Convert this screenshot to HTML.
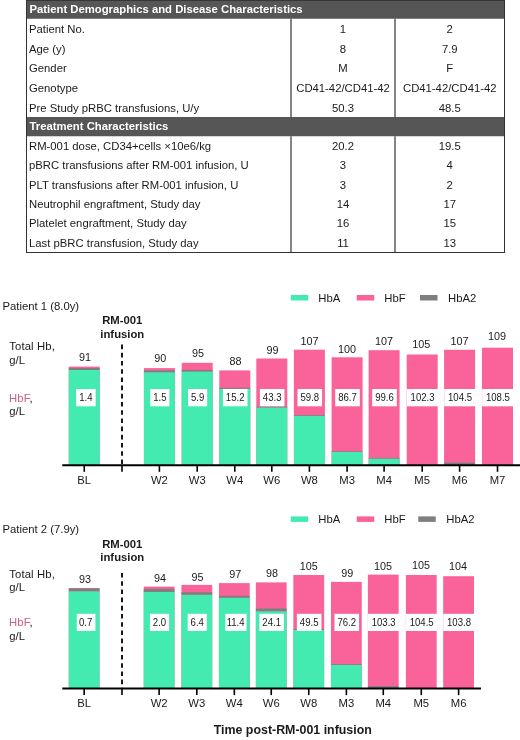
<!DOCTYPE html><html><head><meta charset="utf-8"><title>RM-001</title><style>
html,body{margin:0;padding:0;background:#fff}
svg{display:block}
text{font-family:"Liberation Sans",Arial,sans-serif;font-size:11.3px;fill:#1a1a1a}
.b{font-weight:bold}.w{fill:#fff}.m{text-anchor:middle}
.v{font-size:20px}.n{font-size:10.8px}
</style></head><body>
<svg width="520" height="740" viewBox="0 0 520 740" style="will-change:transform">
<rect x="26.0" y="0" width="479.0" height="18.75" fill="#565656"/>
<rect x="26.0" y="117" width="479.0" height="19.25" fill="#565656"/>
<g stroke="#333" stroke-width="1.2" fill="none">
<path d="M26.5 0V252.5M504.5 0V252.5M26.0 252.5H505.0M26.0 0.4H505.0" stroke-width="1"/>
<path d="M291 18.75V117M395 18.75V117M291 136.25V252.5M395 136.25V252.5"/>
</g>
<text class="b w" x="29.5" y="13">Patient Demographics and Disease Characteristics</text>
<text class="b w" x="29.5" y="130">Treatment Characteristics</text>
<text x="29" y="33.05">Patient No.</text><text class="m" x="343.0" y="33.05">1</text><text class="m" x="449.75" y="33.05">2</text>
<text x="29" y="52.70">Age (y)</text><text class="m" x="343.0" y="52.70">8</text><text class="m" x="449.75" y="52.70">7.9</text>
<text x="29" y="72.35">Gender</text><text class="m" x="343.0" y="72.35">M</text><text class="m" x="449.75" y="72.35">F</text>
<text x="29" y="92.00">Genotype</text><text class="m" x="343.0" y="92.00">CD41-42/CD41-42</text><text class="m" x="449.75" y="92.00">CD41-42/CD41-42</text>
<text x="29" y="111.65">Pre Study pRBC transfusions, U/y</text><text class="m" x="343.0" y="111.65">50.3</text><text class="m" x="449.75" y="111.65">48.5</text>
<text x="29" y="149.85">RM-001 dose, CD34+cells ×10e6/kg</text><text class="m" x="343.0" y="149.85">20.2</text><text class="m" x="449.75" y="149.85">19.5</text>
<text x="29" y="169.22">pBRC transfusions after RM-001 infusion, U</text><text class="m" x="343.0" y="169.22">3</text><text class="m" x="449.75" y="169.22">4</text>
<text x="29" y="188.60">PLT transfusions after RM-001 infusion, U</text><text class="m" x="343.0" y="188.60">3</text><text class="m" x="449.75" y="188.60">2</text>
<text x="29" y="207.97">Neutrophil engraftment, Study day</text><text class="m" x="343.0" y="207.97">14</text><text class="m" x="449.75" y="207.97">17</text>
<text x="29" y="227.35">Platelet engraftment, Study day</text><text class="m" x="343.0" y="227.35">16</text><text class="m" x="449.75" y="227.35">15</text>
<text x="29" y="246.72">Last pBRC transfusion, Study day</text><text class="m" x="343.0" y="246.72">11</text><text class="m" x="449.75" y="246.72">13</text>
<text x="2.5" y="310">Patient 1 (8.0y)</text>
<rect x="290.75" y="295" width="17.5" height="5.5" fill="#44ebb1"/><text x="318.25" y="301.6">HbA</text>
<rect x="356.75" y="295" width="17.5" height="5.5" fill="#f9639a"/><text x="384.25" y="301.6">HbF</text>
<rect x="420" y="295" width="17.5" height="5.5" fill="#7f7f7f"/><text x="448" y="301.6">HbA2</text>
<text class="b m" x="122.3" y="323.8">RM-001</text><text class="b m" x="122.3" y="337.7">infusion</text>
<text x="9.2" y="350.0" textLength="45.6" lengthAdjust="spacing">Total Hb,</text><text x="9.3" y="363.8">g/L</text>
<text x="9.0" y="401.5" textLength="23.6" lengthAdjust="spacing"><tspan fill="#c4648a">HbF</tspan>,</text><text x="9.3" y="415.2">g/L</text>
<rect x="68.75" y="366.6" width="31.0" height="98.30" fill="#f9639a"/>
<rect x="68.75" y="369.9" width="31.0" height="95.00" fill="#44ebb1"/>
<rect x="68.75" y="368.0" width="31.0" height="1.90" fill="#7f7f7f"/>
<text class="m n" x="85.05" y="361.10">91</text>
<rect x="76.15" y="389.0" width="19.50" height="17.30" fill="#fff"/>
<text class="m v" transform="translate(85.90 401.45) scale(0.48 0.505)">1.4</text>
<path d="M84.25 465.2V471.8" stroke="#000" stroke-width="1.6"/>
<text class="m" x="84.25" y="483.90">BL</text>
<rect x="143.9" y="368.1" width="31.0" height="96.80" fill="#f9639a"/>
<rect x="143.9" y="372.2" width="31.0" height="92.70" fill="#44ebb1"/>
<rect x="143.9" y="370.4" width="31.0" height="1.80" fill="#7f7f7f"/>
<text class="m n" x="160.20" y="362.30">90</text>
<rect x="150.24" y="389.0" width="19.12" height="17.30" fill="#fff"/>
<text class="m v" transform="translate(159.80 401.45) scale(0.48 0.505)">1.5</text>
<path d="M159.40 465.2V471.8" stroke="#000" stroke-width="1.6"/>
<text class="m" x="159.40" y="483.90">W2</text>
<rect x="181.7" y="362.8" width="31.0" height="102.10" fill="#f9639a"/>
<rect x="181.7" y="371.5" width="31.0" height="93.40" fill="#44ebb1"/>
<rect x="181.7" y="369.9" width="31.0" height="1.60" fill="#7f7f7f"/>
<text class="m n" x="198.00" y="356.50">95</text>
<rect x="188.04" y="389.0" width="19.12" height="17.30" fill="#fff"/>
<text class="m v" transform="translate(197.60 401.45) scale(0.48 0.505)">5.9</text>
<path d="M197.20 465.2V471.8" stroke="#000" stroke-width="1.6"/>
<text class="m" x="197.20" y="483.90">W3</text>
<rect x="219.3" y="370.4" width="31.0" height="94.50" fill="#f9639a"/>
<rect x="219.3" y="388.8" width="31.0" height="76.10" fill="#44ebb1"/>
<rect x="219.3" y="387.7" width="31.0" height="1.10" fill="#7f7f7f"/>
<text class="m n" x="235.60" y="364.90">88</text>
<rect x="222.91" y="389.0" width="24.57" height="17.30" fill="#fff"/>
<text class="m v" transform="translate(235.20 401.45) scale(0.48 0.505)">15.2</text>
<path d="M234.80 465.2V471.8" stroke="#000" stroke-width="1.6"/>
<text class="m" x="234.80" y="483.90">W4</text>
<rect x="256.3" y="358.5" width="31.0" height="106.40" fill="#f9639a"/>
<rect x="256.3" y="407.4" width="31.0" height="57.50" fill="#44ebb1"/>
<rect x="256.3" y="406.6" width="31.0" height="0.80" fill="#7f7f7f"/>
<text class="m n" x="272.60" y="353.80">99</text>
<rect x="259.91" y="389.0" width="24.57" height="17.30" fill="#fff"/>
<text class="m v" transform="translate(272.20 401.45) scale(0.48 0.505)">43.3</text>
<path d="M271.80 465.2V471.8" stroke="#000" stroke-width="1.6"/>
<text class="m" x="271.80" y="483.90">W6</text>
<rect x="293.9" y="349.7" width="31.0" height="115.20" fill="#f9639a"/>
<rect x="293.9" y="415.7" width="31.0" height="49.20" fill="#44ebb1"/>
<rect x="293.9" y="415.0" width="31.0" height="0.70" fill="#7f7f7f"/>
<text class="m n" x="309.40" y="344.70">107</text>
<rect x="297.51" y="389.0" width="24.57" height="17.30" fill="#fff"/>
<text class="m v" transform="translate(309.80 401.45) scale(0.48 0.505)">59.8</text>
<path d="M309.40 465.2V471.8" stroke="#000" stroke-width="1.6"/>
<text class="m" x="309.40" y="483.90">W8</text>
<rect x="331.6" y="357.3" width="31.0" height="107.60" fill="#f9639a"/>
<rect x="331.6" y="451.9" width="31.0" height="13.00" fill="#44ebb1"/>
<rect x="331.6" y="451.3" width="31.0" height="0.60" fill="#7f7f7f"/>
<text class="m n" x="347.10" y="352.50">100</text>
<rect x="335.21" y="389.0" width="24.57" height="17.30" fill="#fff"/>
<text class="m v" transform="translate(347.50 401.45) scale(0.48 0.505)">86.7</text>
<path d="M347.10 465.2V471.8" stroke="#000" stroke-width="1.6"/>
<text class="m" x="347.10" y="483.90">M3</text>
<rect x="368.6" y="350.2" width="31.0" height="114.70" fill="#f9639a"/>
<rect x="368.6" y="458.5" width="31.0" height="6.40" fill="#44ebb1"/>
<rect x="368.6" y="457.8" width="31.0" height="0.70" fill="#7f7f7f"/>
<text class="m n" x="384.10" y="345.20">107</text>
<rect x="372.21" y="389.0" width="24.57" height="17.30" fill="#fff"/>
<text class="m v" transform="translate(384.50 401.45) scale(0.48 0.505)">99.6</text>
<path d="M384.10 465.2V471.8" stroke="#000" stroke-width="1.6"/>
<text class="m" x="384.10" y="483.90">M4</text>
<rect x="406.7" y="354.5" width="31.0" height="110.40" fill="#f9639a"/>
<text class="m n" x="421.30" y="347.60">105</text>
<rect x="406.84" y="389.0" width="31.52" height="17.30" fill="#fff"/>
<text class="m v" transform="translate(422.60 401.45) scale(0.48 0.505)">102.3</text>
<path d="M422.20 465.2V471.8" stroke="#000" stroke-width="1.6"/>
<text class="m" x="422.20" y="483.90">M5</text>
<rect x="444.1" y="349.8" width="31.0" height="115.10" fill="#f9639a"/>
<rect x="444.1" y="462.6" width="31.0" height="2.30" fill="#7f7f7f"/>
<text class="m n" x="459.60" y="345.10">107</text>
<rect x="444.24" y="389.0" width="31.52" height="17.30" fill="#fff"/>
<text class="m v" transform="translate(460.00 401.45) scale(0.48 0.505)">104.5</text>
<path d="M459.60 465.2V471.8" stroke="#000" stroke-width="1.6"/>
<text class="m" x="459.60" y="483.90">M6</text>
<rect x="482.0" y="347.7" width="31.0" height="117.20" fill="#f9639a"/>
<text class="m n" x="496.90" y="340.40">109</text>
<rect x="482.14" y="389.0" width="31.52" height="17.30" fill="#fff"/>
<text class="m v" transform="translate(497.90 401.45) scale(0.48 0.505)">108.5</text>
<path d="M497.50 465.2V471.8" stroke="#000" stroke-width="1.6"/>
<text class="m" x="497.50" y="483.90">M7</text>
<path d="M62.3 465.2H520" stroke="#000" stroke-width="2"/>
<path d="M122 344.6V465.2" stroke="#000" stroke-width="1.8" stroke-dasharray="4.6 3.6"/>
<path d="M122 465.2V471.8" stroke="#000" stroke-width="1.6"/>
<text x="2.5" y="533.1">Patient 2 (7.9y)</text>
<rect x="290.75" y="516.4" width="17.5" height="5.5" fill="#44ebb1"/><text x="318.25" y="523.0">HbA</text>
<rect x="356.75" y="516.4" width="17.5" height="5.5" fill="#f9639a"/><text x="384.25" y="523.0">HbF</text>
<rect x="418.25" y="516.4" width="17.5" height="5.5" fill="#7f7f7f"/><text x="446.25" y="523.0">HbA2</text>
<text class="b m" x="122.3" y="547.5">RM-001</text><text class="b m" x="122.3" y="561.3">infusion</text>
<text x="9.2" y="578.0" textLength="45.6" lengthAdjust="spacing">Total Hb,</text><text x="9.3" y="591.3">g/L</text>
<text x="9.0" y="626.2" textLength="23.6" lengthAdjust="spacing"><tspan fill="#c4648a">HbF</tspan>,</text><text x="9.3" y="640.0">g/L</text>
<rect x="68.75" y="588.0" width="30.8" height="100.20" fill="#f9639a"/>
<rect x="68.75" y="591.2" width="30.8" height="97.00" fill="#44ebb1"/>
<rect x="68.75" y="588.5" width="30.8" height="2.70" fill="#7f7f7f"/>
<text class="m n" x="84.95" y="583.10">93</text>
<rect x="76.80" y="613.8" width="18.60" height="17.20" fill="#fff"/>
<text class="m v" transform="translate(85.70 626.20) scale(0.48 0.505)">0.7</text>
<path d="M84.15 688.5V695.1" stroke="#000" stroke-width="1.6"/>
<text class="m" x="84.15" y="707.20">BL</text>
<rect x="143.71964000000003" y="586.6" width="30.8" height="101.60" fill="#f9639a"/>
<rect x="143.71964000000003" y="591.9" width="30.8" height="96.30" fill="#44ebb1"/>
<rect x="143.71964000000003" y="588.9" width="30.8" height="3.00" fill="#7f7f7f"/>
<text class="m n" x="159.92" y="581.90">94</text>
<rect x="149.96" y="613.8" width="19.12" height="17.20" fill="#fff"/>
<text class="m v" transform="translate(159.52 626.20) scale(0.48 0.505)">2.0</text>
<path d="M159.12 688.5V695.1" stroke="#000" stroke-width="1.6"/>
<text class="m" x="159.12" y="707.20">W2</text>
<rect x="181.42892" y="584.9" width="30.8" height="103.30" fill="#f9639a"/>
<rect x="181.42892" y="594.6" width="30.8" height="93.60" fill="#44ebb1"/>
<rect x="181.42892" y="592.3" width="30.8" height="2.30" fill="#7f7f7f"/>
<text class="m n" x="197.63" y="580.70">95</text>
<rect x="187.67" y="613.8" width="19.12" height="17.20" fill="#fff"/>
<text class="m v" transform="translate(197.23 626.20) scale(0.48 0.505)">6.4</text>
<path d="M196.83 688.5V695.1" stroke="#000" stroke-width="1.6"/>
<text class="m" x="196.83" y="707.20">W3</text>
<rect x="218.93868" y="583.1" width="30.8" height="105.10" fill="#f9639a"/>
<rect x="218.93868" y="597.6" width="30.8" height="90.60" fill="#44ebb1"/>
<rect x="218.93868" y="595.8" width="30.8" height="1.80" fill="#7f7f7f"/>
<text class="m n" x="235.14" y="578.40">97</text>
<rect x="225.30" y="613.8" width="21.20" height="17.20" fill="#fff"/>
<text class="m v" transform="translate(235.64 626.20) scale(0.48 0.505)">11.4</text>
<path d="M234.34 688.5V695.1" stroke="#000" stroke-width="1.6"/>
<text class="m" x="234.34" y="707.20">W4</text>
<rect x="255.84988" y="582.4" width="30.8" height="105.80" fill="#f9639a"/>
<rect x="255.84988" y="611.2" width="30.8" height="77.00" fill="#44ebb1"/>
<rect x="255.84988" y="608.5" width="30.8" height="2.70" fill="#7f7f7f"/>
<text class="m n" x="272.05" y="577.00">98</text>
<rect x="259.36" y="613.8" width="24.57" height="17.20" fill="#fff"/>
<text class="m v" transform="translate(271.65 626.20) scale(0.48 0.505)">24.1</text>
<path d="M271.25 688.5V695.1" stroke="#000" stroke-width="1.6"/>
<text class="m" x="271.25" y="707.20">W6</text>
<rect x="293.35964" y="575.0" width="30.8" height="113.20" fill="#f9639a"/>
<rect x="293.35964" y="629.9" width="30.8" height="58.30" fill="#44ebb1"/>
<rect x="293.35964" y="629.0" width="30.8" height="0.90" fill="#7f7f7f"/>
<text class="m n" x="308.76" y="569.70">105</text>
<rect x="296.87" y="613.8" width="24.57" height="17.20" fill="#fff"/>
<text class="m v" transform="translate(309.16 626.20) scale(0.48 0.505)">49.5</text>
<path d="M308.76 688.5V695.1" stroke="#000" stroke-width="1.6"/>
<text class="m" x="308.76" y="707.20">W8</text>
<rect x="330.96916000000004" y="581.9" width="30.8" height="106.30" fill="#f9639a"/>
<rect x="330.96916000000004" y="665.0" width="30.8" height="23.20" fill="#44ebb1"/>
<rect x="330.96916000000004" y="664.3" width="30.8" height="0.70" fill="#7f7f7f"/>
<text class="m n" x="347.17" y="577.00">99</text>
<rect x="334.48" y="613.8" width="24.57" height="17.20" fill="#fff"/>
<text class="m v" transform="translate(346.77 626.20) scale(0.48 0.505)">76.2</text>
<path d="M346.37 688.5V695.1" stroke="#000" stroke-width="1.6"/>
<text class="m" x="346.37" y="707.20">M3</text>
<rect x="367.88036000000005" y="574.6" width="30.8" height="113.60" fill="#f9639a"/>
<rect x="367.88036000000005" y="686.2" width="30.8" height="2.00" fill="#7f7f7f"/>
<text class="m n" x="382.98" y="569.70">105</text>
<rect x="367.92" y="613.8" width="31.52" height="17.20" fill="#fff"/>
<text class="m v" transform="translate(383.68 626.20) scale(0.48 0.505)">103.3</text>
<path d="M383.28 688.5V695.1" stroke="#000" stroke-width="1.6"/>
<text class="m" x="383.28" y="707.20">M4</text>
<rect x="405.88892" y="575.0" width="30.8" height="113.20" fill="#f9639a"/>
<text class="m n" x="420.99" y="568.70">105</text>
<rect x="405.93" y="613.8" width="31.52" height="17.20" fill="#fff"/>
<text class="m v" transform="translate(421.69 626.20) scale(0.48 0.505)">104.5</text>
<path d="M421.29 688.5V695.1" stroke="#000" stroke-width="1.6"/>
<text class="m" x="421.29" y="707.20">M5</text>
<rect x="443.19916000000006" y="576.2" width="30.8" height="112.00" fill="#f9639a"/>
<text class="m n" x="458.00" y="570.40">104</text>
<rect x="443.24" y="613.8" width="31.52" height="17.20" fill="#fff"/>
<text class="m v" transform="translate(459.00 626.20) scale(0.48 0.505)">103.8</text>
<path d="M458.60 688.5V695.1" stroke="#000" stroke-width="1.6"/>
<text class="m" x="458.60" y="707.20">M6</text>
<path d="M62.3 688.5H481" stroke="#000" stroke-width="2"/>
<path d="M122 573V688.5" stroke="#000" stroke-width="1.8" stroke-dasharray="4.6 3.6"/>
<path d="M122 688.5V695.1" stroke="#000" stroke-width="1.6"/>
<text class="b m" x="292.8" y="734" style="font-size:12.4px">Time post-RM-001 infusion</text>
</svg></body></html>
